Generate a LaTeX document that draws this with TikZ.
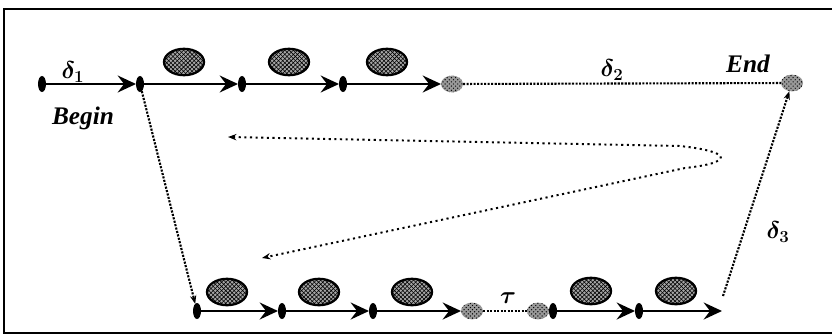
\documentclass[tikz,border=0pt]{standalone}
\usepackage{fontspec}
\usepackage{bm}
\setmainfont{Liberation Serif}
\usetikzlibrary{arrows.meta,patterns,shapes.geometric}
\begin{document}
\begin{tikzpicture}[x=0.025cm,y=-0.025cm,
	every node/.style={inner sep=0,outer sep=0},
	dot/.style={ellipse,fill=black,minimum width=0.2cm,minimum height=0.4cm},
	hub/.style={ellipse,preaction={fill=black!40},pattern=crosshatch dots,minimum width=0.55cm,minimum height=0.42cm},
	cell/.style={ellipse,draw,line width=1.6pt,preaction={fill=black!35},pattern=crosshatch,minimum width=1cm,minimum height=0.66cm},
	lbl/.style={font=\fontsize{18}{18}\selectfont\bfseries\itshape},
	flow/.style={line width=2pt,-{Stealth[length=13pt,width=12pt,inset=4.5pt]}},
	trail/.style={line width=1.5pt,densely dotted},
	curl/.style={line width=1.4pt,dash pattern=on 1.5pt off 2.5pt,{Stealth[length=6pt]}-{Stealth[length=6pt]}}]
\useasboundingbox (0,0) rectangle (832,335);
\draw[line width=2pt] (832,9) -- (4,9) -- (4,333) -- (832,333);
% upper row
\node[dot] (t0) at (42,84) {};
\node[dot] (t1) at (140,84) {};
\node[dot] (t2) at (242,84) {};
\node[dot] (t3) at (343,84) {};
\node[hub] (h1) at (452,84) {};
\node[hub] (h2) at (792,83) {};
\node[cell] (c1) at (184,62) {};
\node[cell] (c2) at (289,62) {};
\node[cell] (c3) at (387,62) {};
% lower row
\node[dot] (b0) at (197,311) {};
\node[dot] (b1) at (282,311) {};
\node[dot] (b2) at (373,311) {};
\node[hub] (h3) at (472,311) {};
\node[hub] (h4) at (538,311) {};
\node[dot] (b3) at (553,311) {};
\node[dot] (b4) at (639,311) {};
\coordinate (b5) at (722,311);
\node[cell] (c4) at (227,292) {};
\node[cell] (c5) at (319,292) {};
\node[cell] (c6) at (412,292) {};
\node[cell] (c7) at (591,291) {};
\node[cell] (c8) at (676,291) {};
% labels
\node[lbl] (d1) at (73,72) {$\bm{\delta_1}$};
\node[lbl] (beg) at (83,118) {Begin};
\node[lbl] (d2) at (612,70) {$\bm{\delta_2}$};
\node[lbl] (fin) at (748,64) {End};
\node[lbl] (d3) at (778,232) {$\bm{\delta_3}$};
\node[lbl] (tau) at (508,298) {$\bm{\tau}$};
% connectors
\draw[flow] (t0) -- (t1);
\draw[flow] (t1) -- (t2);
\draw[flow] (t2) -- (t3);
\draw[flow] (t3) -- (h1);
\draw[trail] (h1) -- (h2);
\draw[trail,-{Stealth[length=6pt]}] (t1) -- (b0);
\draw[flow] (b0) -- (b1);
\draw[flow] (b1) -- (b2);
\draw[flow] (b2) -- (h3);
\draw[trail] (h3) -- (h4);
\draw[line width=2pt] (h4) -- (b3);
\draw[flow] (b3) -- (b4);
\draw[flow] (b4) -- (b5);
\coordinate (r0) at (723,296);
\draw[trail,-{Stealth[length=6pt]}] (r0) -- (h2);
\coordinate (s0) at (228,137);
\coordinate (s1) at (262,258);
\draw[curl] (s0) -- (680,146) .. controls (735,152) and (732,163) .. (685,168) -- (s1);
\end{tikzpicture}
\end{document}
